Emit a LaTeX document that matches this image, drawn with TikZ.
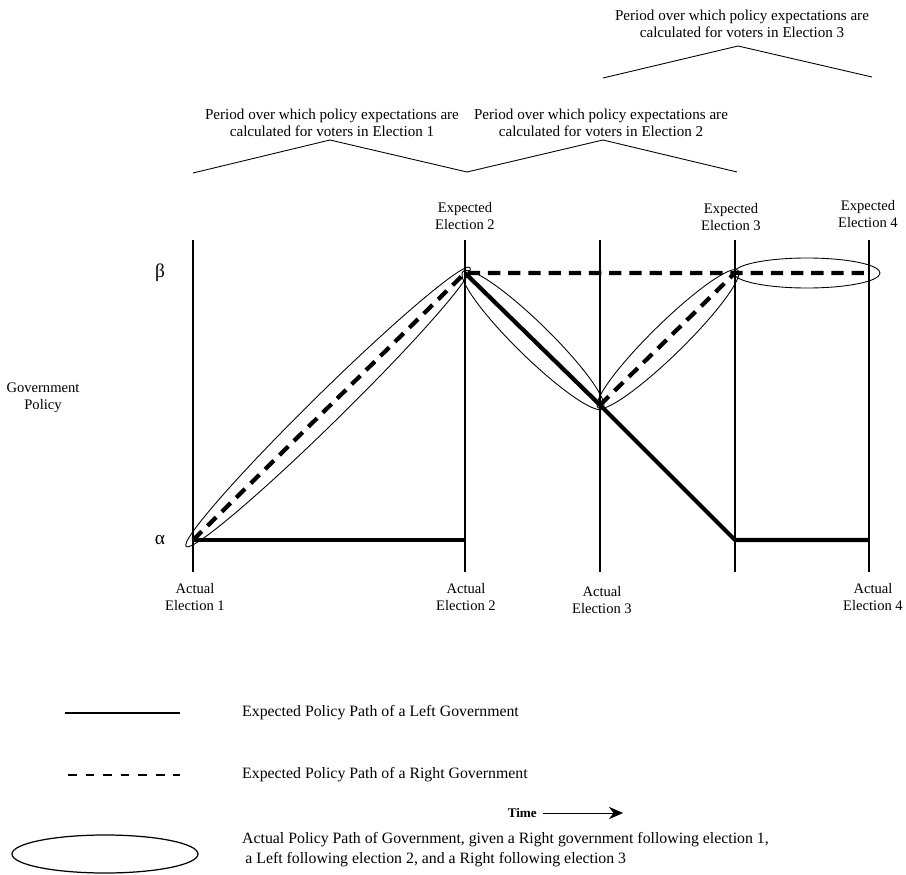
\documentclass[tikz,border=0pt]{standalone}
\usepackage{fontspec}
\setmainfont{Liberation Serif}
\usepackage{tikz}
\usetikzlibrary{arrows.meta}
\tikzset{leftpath/.style={line width=2.4pt},
         rightpath/.style={line width=2.4pt,dash pattern=on 7pt off 4.5pt},
         actualpath/.style={line width=0.5pt},
         electionline/.style={line width=0.6pt},
         smalllabel/.style={font=\fontsize{8.3}{9.7}\selectfont,align=center},
         periodlabel/.style={font=\fontsize{8.6}{9.8}\selectfont,align=center},
         legendlabel/.style={font=\fontsize{9}{11.4}\selectfont,align=left,anchor=west}}

\begin{document}
\begin{tikzpicture}[x=0.02cm,y=-0.02cm]
\useasboundingbox (0,0) rectangle (906,875);

% election lines
\foreach \x [count=\i] in {193,465,600,735,869}
         {
           \coordinate (top\i) at (\x,240);
           \coordinate (bot\i) at (\x,572);
           \draw[electionline] (top\i) -- (bot\i);
         }

\coordinate (alpha1) at (193,540);
\coordinate (alpha2) at (465,540);
\coordinate (beta2) at (465,273);
\coordinate (mid3) at (600,405);
\coordinate (beta4) at (735,273);
\coordinate (alpha4) at (735,540);
\coordinate (beta5) at (869,273);
\coordinate (alpha5) at (869,540);

\node[font=\fontsize{11}{12}\selectfont] (beta) at (160,273) {β};
\node[font=\fontsize{11}{12}\selectfont] (alpha) at (160,540) {α};
\node[smalllabel] (policy) at (43,398) {Government\\Policy};

% left and right government paths
\draw[leftpath] (alpha1) -- (alpha2);
\draw[leftpath] (beta2) -- (mid3) -- (alpha4) -- (alpha5);
\draw[rightpath] (alpha1) -- (beta2) -- (beta5);
\draw[rightpath] (mid3) -- (beta4);

% actual path
\draw[actualpath,rotate around={44.5:(328,407)}] (328,407) ellipse [x radius=199,y radius=15];
\draw[actualpath,rotate around={-44.4:(533,340)}] (533,340) ellipse [x radius=98,y radius=17];
\draw[actualpath,rotate around={44.4:(668,339)}] (668,339) ellipse [x radius=98,y radius=16];
\draw[actualpath] (807,273) ellipse [x radius=73,y radius=15];

\node[smalllabel] (exp2) at (465,216) {Expected\\Election 2};
\node[smalllabel] (exp3) at (731,217) {Expected\\Election 3};
\node[smalllabel] (exp4) at (868,214) {Expected\\Election 4};

\node[smalllabel] (act1) at (195,597) {Actual\\Election 1};
\node[smalllabel] (act2) at (466,597) {Actual\\Election 2};
\node[smalllabel] (act3) at (602,600) {Actual\\Election 3};
\node[smalllabel] (act4) at (873,597) {Actual\\Election 4};

% periods
\node[periodlabel] (period1) at (332,123) {Period over which policy expectations are\\calculated for voters in Election 1};
\node[periodlabel] (period2) at (601,123) {Period over which policy expectations are\\calculated for voters in Election 2};
\node[periodlabel] (period3) at (742,24) {Period over which policy expectations are\\calculated for voters in Election 3};
\draw[actualpath] (193,173) -- (330,140) -- (467,172);
\draw[actualpath] (467,172) -- (603,140) -- (737,172);
\draw[actualpath] (603,78) -- (738,46) -- (872,77);

% time
\node[font=\fontsize{7.5}{9}\selectfont\bfseries,anchor=east] (time) at (543,813) {Time};
\coordinate (timeend) at (623,813);
\draw[line width=0.5pt,-{Stealth[length=8pt,width=7pt]}] (time) -- (timeend);

% legend
\draw[line width=1pt] (65,713) -- (180,713);
\node[legendlabel] (leftleg) at (236,713) {Expected Policy Path of a Left Government};
\draw[line width=1.3pt,dash pattern=on 5pt off 5pt] (68,775) -- (180,775);
\node[legendlabel] (rightleg) at (236,775) {Expected Policy Path of a Right Government};
\draw[line width=0.7pt] (105,854) ellipse [x radius=93,y radius=19];
\node[legendlabel] (actualleg) at (236,850) {Actual Policy Path of Government, given a Right government following election 1,\\\hspace{0.2em}a Left following election 2, and a Right following election 3};
\end{tikzpicture}
\end{document}
